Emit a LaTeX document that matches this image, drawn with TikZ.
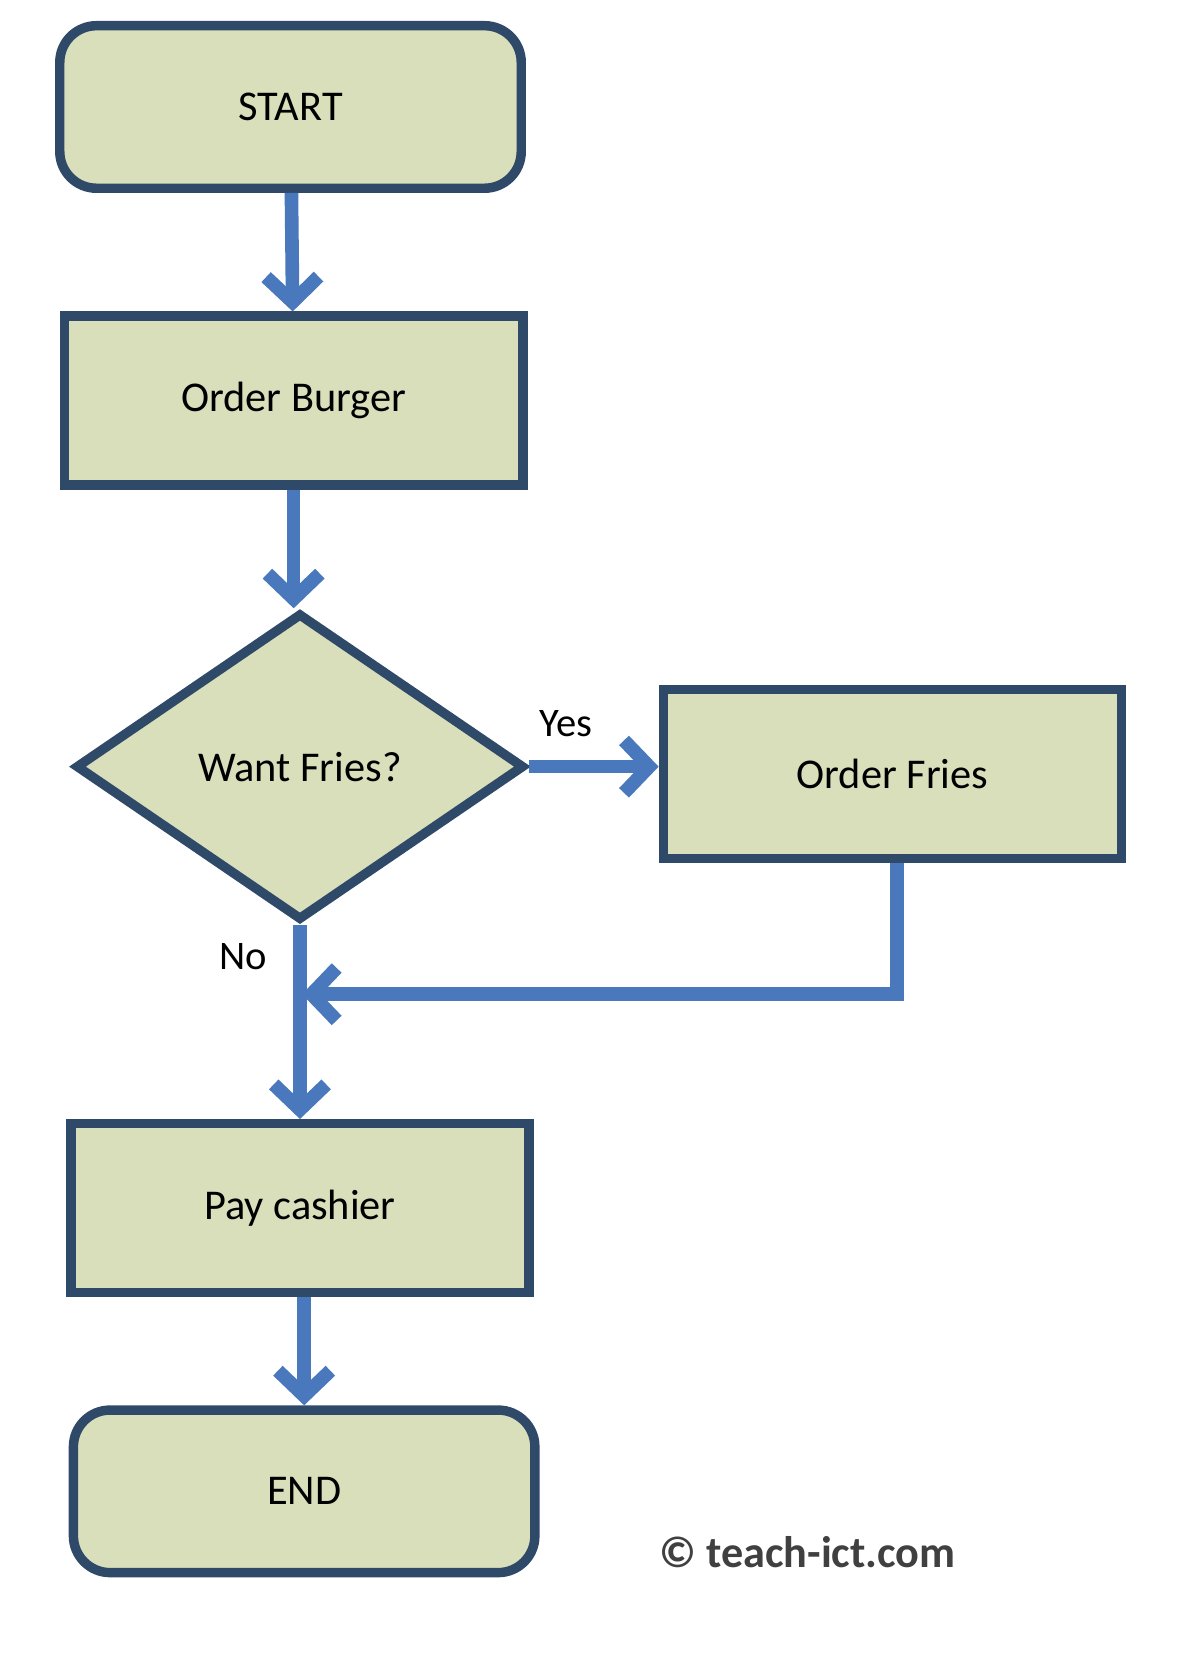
\documentclass[tikz,border=0pt]{standalone}
\usepackage{fontspec}
\setmainfont{Carlito}
\usetikzlibrary{shapes.geometric,arrows.meta,positioning}
\definecolor{boxfill}{HTML}{D8DFBA}
\definecolor{boxline}{HTML}{2F4A68}
\definecolor{flowline}{HTML}{4A78BC}
\tikzstyle{terminal} = [rectangle, rounded corners=0.35cm, minimum width=4.4cm, minimum height=1.55cm, text centered, draw=boxline, line width=0.9mm, fill=boxfill, font=\fontsize{11.5}{14}\selectfont]
\tikzstyle{process} = [rectangle, minimum width=4.37cm, minimum height=1.61cm, text centered, draw=boxline, line width=0.9mm, fill=boxfill, font=\fontsize{11.5}{14}\selectfont]
\tikzstyle{decision} = [diamond, aspect=1.46, minimum width=4.28cm, inner sep=0pt, text centered, draw=boxline, line width=0.9mm, fill=boxfill, font=\fontsize{11.5}{14}\selectfont]
\tikzstyle{arrow} = [line width=1.3mm, draw=flowline, -{Straight Barb[length=2.4mm,width=5mm]}]
\begin{document}
\begin{tikzpicture}
		\useasboundingbox (0,0) rectangle (11.44,-16.0);
		% Boxes
		\node[terminal] (start) at (2.77,-1.02) {START};
		\node[process] (burger) at (2.80,-3.82) {Order Burger};
		\node[decision, minimum height=2.93cm] (fries) at (2.86,-7.31) {Want Fries?};
		\node[process] (orderfries) at (8.51,-7.38) {Order Fries};
		\node[process] (pay) at (2.86,-11.52) {Pay cashier};
		\node[terminal] (end) at (2.90,-14.22) {END};
		\coordinate (join) at (2.88,-9.48);
		\coordinate (corner) at (8.55,-9.48);
		% Connectors
		\draw [arrow] (start)--(burger);
		\draw [arrow] (burger.south)--(burger.south|-fries.north);
		\draw [arrow] (fries.east)--(orderfries.west|-fries.east);
		\draw [arrow] (fries.south)--(pay.north-|fries.south);
		\draw [arrow] (orderfries.south-|corner)--(corner)--(join);
		\draw [arrow] (pay.south-|end.north)--(end.north);
		% Labels
		\node[font=\fontsize{11}{13}\selectfont] (yes) at (5.40,-6.90) {Yes};
		\node[font=\fontsize{11}{13}\selectfont] (no) at (2.32,-9.12) {No};
		\node[font=\fontsize{12}{14}\selectfont\bfseries, text=black!75] (copy) at (7.70,-14.80) {© teach-ict.com};
\end{tikzpicture}
\end{document}
